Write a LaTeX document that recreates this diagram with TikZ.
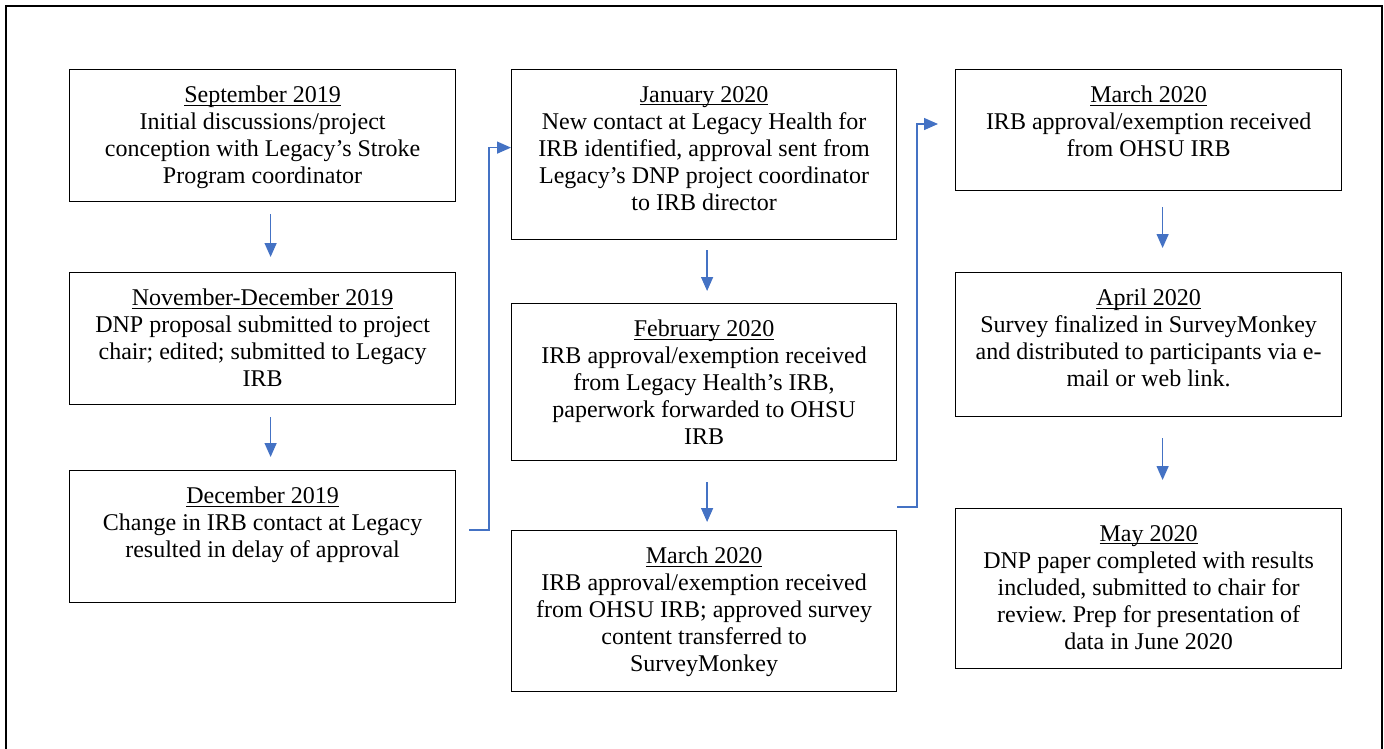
\documentclass[tikz,border=0pt]{standalone}
\usepackage{fontspec}
\setmainfont{Liberation Serif}
\usetikzlibrary{arrows.meta,positioning}
\frenchspacing
\definecolor{flowblue}{RGB}{68,114,196}
\newcommand{\dateline}[1]{\setbox0\hbox{#1}\rlap{\rule[-3pt]{\wd0}{1.3pt}}\box0}
\tikzset{
  box/.style={draw,line width=1.2pt,minimum width=386pt,inner sep=0pt,anchor=north west},
  txt/.style={anchor=north,align=center,inner sep=0pt,font=\fontsize{24}{27}\selectfont},
  flow/.style={draw=flowblue,line width=1.4pt,-{Triangle[length=14pt,width=12pt]}}
}
\begin{document}
\begin{tikzpicture}[x=1pt,y=-1pt]
\useasboundingbox (0,0) rectangle (1384,748);
\draw[line width=1.5pt] (6,760)--(6,6)--(1382,6)--(1382,760);
% first column
\node[box,minimum height=132pt] (b1) at (69,69) {};
\node[txt] (t1) at ([yshift=-17pt]b1.north) {\dateline{September 2019}\\Initial discussions/project\\conception with Legacy’s Stroke\\Program coordinator};
\node[box,minimum height=132pt] (b2) at (69,272) {};
\node[txt] (t2) at ([yshift=-17pt]b2.north) {\dateline{November-December 2019}\\DNP proposal submitted to project\\chair; edited; submitted to Legacy\\IRB};
\node[box,minimum height=132pt] (b3) at (69,470) {};
\node[txt] (t3) at ([yshift=-17pt]b3.north) {\dateline{December 2019}\\Change in IRB contact at Legacy\\resulted in delay of approval};
% second column
\node[box,minimum width=385pt,minimum height=170pt] (c1) at (511,69) {};
\node[txt] (u1) at ([yshift=-17pt]c1.north) {\dateline{January 2020}\\New contact at Legacy Health for\\IRB identified, approval sent from\\Legacy’s DNP project coordinator\\to IRB director};
\node[box,minimum width=385pt,minimum height=157pt] (c2) at (511,303) {};
\node[txt] (u2) at ([yshift=-17pt]c2.north) {\dateline{February 2020}\\IRB approval/exemption received\\from Legacy Health’s IRB,\\paperwork forwarded to OHSU\\IRB};
\node[box,minimum width=385pt,minimum height=161pt] (c3) at (511,530) {};
\node[txt] (u3) at ([yshift=-17pt]c3.north) {\dateline{March 2020}\\IRB approval/exemption received\\from OHSU IRB; approved survey\\content transferred to\\SurveyMonkey};
% third column
\node[box,minimum height=121pt] (d1) at (955,69) {};
\node[txt] (v1) at ([yshift=-17pt]d1.north) {\dateline{March 2020}\\IRB approval/exemption received\\from OHSU IRB};
\node[box,minimum height=144pt] (d2) at (955,272) {};
\node[txt] (v2) at ([yshift=-17pt]d2.north) {\dateline{April 2020}\\Survey finalized in SurveyMonkey\\and distributed to participants via e-\\mail or web link.};
\node[box,minimum height=160pt] (d3) at (955,508) {};
\node[txt] (v3) at ([yshift=-17pt]d3.north) {\dateline{May 2020}\\DNP paper completed with results\\included, submitted to chair for\\review. Prep for presentation of\\data in June 2020};
% arrows
\draw[flow] ([xshift=8pt,yshift=-12pt]b1.south)--([xshift=8pt,yshift=15pt]b2.north);
\draw[flow] ([xshift=8pt,yshift=-12pt]b2.south)--([xshift=8pt,yshift=13pt]b3.north);
\draw[flow] ([xshift=3pt,yshift=-10pt]c1.south)--([xshift=3pt,yshift=12pt]c2.north);
\draw[flow] ([xshift=3pt,yshift=-21pt]c2.south)--([xshift=3pt,yshift=8pt]c3.north);
\draw[flow] ([xshift=14pt,yshift=-16pt]d1.south)--([xshift=14pt,yshift=24pt]d2.north);
\draw[flow] ([xshift=14pt,yshift=-21pt]d2.south)--([xshift=14pt,yshift=28pt]d3.north);
\coordinate (e1) at (469,530);
\draw[flow] (e1)--++(20,0)|-([yshift=7pt]c1.west);
\coordinate (e2) at (897,507);
\coordinate (e3) at (938,124);
\draw[flow] (e2)--++(20,0)|-(e3);
\end{tikzpicture}
\end{document}
